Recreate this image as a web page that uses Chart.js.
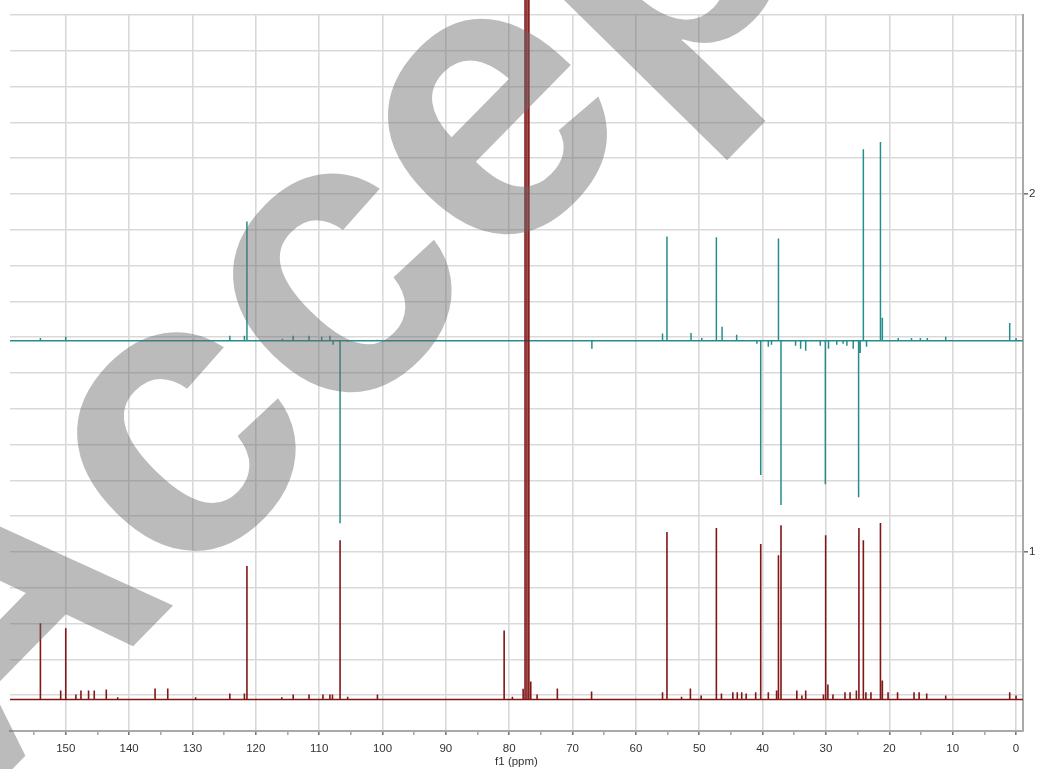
<!DOCTYPE html>
<html>
<head>
<meta charset="utf-8">
<script src="https://cdn.jsdelivr.net/npm/chart.js@4.4.0/dist/chart.umd.min.js"></script>
<style>
  html, body { margin: 0; padding: 0; background: #ffffff; overflow: hidden; }
  #wrap { width: 1038px; height: 769px; position: relative; }
</style>
</head>
<body>
<div id="wrap"><canvas id="nmr" width="1038" height="769"></canvas></div>
<script>
// 13C spectrum: peak positions (ppm) and heights above its baseline
const carbonShift = [154.0, 150.8, 150.0, 148.4, 147.6, 146.4, 145.5, 143.6, 141.8, 135.9, 133.9, 129.5,
  124.1, 121.8, 121.4, 115.9, 114.1, 111.6, 109.4, 108.3, 107.9, 106.7, 105.5, 100.8,
  80.8, 79.5, 77.8, 77.5, 77.2, 76.9, 76.6, 75.6, 72.4, 67.0,
  55.8, 55.1, 52.8, 51.4, 49.7, 47.3, 46.5, 44.7, 44.0, 43.3, 42.6, 41.1, 40.3, 39.1,
  37.8, 37.5, 37.1, 34.6, 33.8, 33.2, 30.4, 30.05, 29.7, 28.9, 27.0, 26.2, 25.2, 24.8,
  24.1, 23.7, 22.9, 21.4, 21.1, 20.2, 18.7, 16.1, 15.3, 14.1, 11.1, 1.0, 0.0];
const carbonHeight = [0.213, 0.025, 0.199, 0.014, 0.025, 0.025, 0.025, 0.028, 0.006, 0.031, 0.031, 0.006,
  0.017, 0.017, 0.373, 0.006, 0.014, 0.014, 0.014, 0.014, 0.014, 0.445, 0.008, 0.014,
  0.193, 0.008, 0.03, 3.0, 3.0, 3.0, 0.05, 0.014, 0.031, 0.022,
  0.020, 0.468, 0.008, 0.031, 0.011, 0.479, 0.017, 0.020, 0.020, 0.020, 0.017, 0.020, 0.434, 0.020,
  0.025, 0.403, 0.487, 0.025, 0.011, 0.025, 0.014, 0.459, 0.042, 0.014, 0.020, 0.020, 0.025, 0.479,
  0.445, 0.020, 0.020, 0.493, 0.053, 0.020, 0.020, 0.020, 0.020, 0.017, 0.011, 0.020, 0.011];
const carbonBase = 0.588;

// DEPT-135 spectrum: CH/CH3 up, CH2 down
const deptShift = [154.0, 150.0, 129.7, 124.1, 121.8, 121.4, 115.8, 114.1, 111.6, 109.6, 108.3, 107.8,
  106.7, 105.5, 100.8, 66.95, 55.8, 55.1, 51.3, 49.6, 47.3, 46.4, 44.1, 40.9, 40.3, 39.1,
  38.6, 37.5, 37.1, 34.8, 34.0, 33.2, 30.9, 30.1, 29.6, 28.3, 27.3, 26.7, 25.7, 24.85,
  24.6, 24.1, 23.6, 21.4, 21.1, 18.6, 16.5, 15.1, 14.0, 11.1, 1.0, 0.0];
const deptHeight = [0.008, 0.011, 0.003, 0.014, 0.014, 0.333, 0.006, 0.014, 0.014, 0.011, 0.014, -0.011,
  -0.510, -0.003, 0.003, -0.022, 0.020, 0.291, 0.022, 0.008, 0.289, 0.039, 0.017, -0.008, -0.375, -0.017,
  -0.011, 0.286, -0.459, -0.014, -0.022, -0.028, -0.014, -0.401, -0.022, -0.011, -0.008, -0.014, -0.022, -0.437,
  -0.034, 0.535, -0.017, 0.555, 0.064, 0.008, 0.008, 0.008, 0.008, 0.011, 0.050, 0.008];
const deptBase = 1.590;

// axis ranges and ticks
const ppmMin = -1.1, ppmMax = 158.8;
const ppmTicks = [0, 5, 10, 15, 20, 25, 30, 35, 40, 45, 50, 55, 60, 65, 70, 75, 80, 85, 90, 95,
  100, 105, 110, 115, 120, 125, 130, 135, 140, 145, 150, 155];
const intensityMin = 0.5, intensityMax = 2.5;
const intensityTicks = [0.5, 0.6, 0.7, 0.8, 0.9, 1.0, 1.1, 1.2, 1.3, 1.4, 1.5, 1.6, 1.7, 1.8, 1.9,
  2.0, 2.1, 2.2, 2.3, 2.4, 2.5];
const xTitle = 'f1 (ppm)';
const stampText = 'Accepted';

// turn a peak list into a stick trace along its baseline
function stickTrace(shifts, heights, base) {
  const pts = [{ x: ppmMax, y: base }];
  shifts.forEach((s, i) => {
    pts.push({ x: s, y: base });
    pts.push({ x: s, y: base + heights[i] });
    pts.push({ x: s, y: base });
  });
  pts.push({ x: ppmMin, y: base });
  return pts;
}

const isWhole = v => Math.abs(v - Math.round(v)) < 1e-6;
const isTen = v => Math.abs(v % 10) < 1e-6;

// large translucent diagonal stamp over the plot
const stampPlugin = {
  id: 'stamp',
  afterDraw(chart) {
    const ctx = chart.ctx;
    ctx.save();
    ctx.translate(-22, 804);
    ctx.rotate(-45.5 * Math.PI / 180);
    ctx.font = 'bold 400px "Liberation Sans", Arial, sans-serif';
    ctx.fillStyle = 'rgba(105,105,105,0.45)';
    ctx.textBaseline = 'alphabetic';
    ctx.fillText(stampText, 0, 0);
    ctx.restore();
  }
};

new Chart(document.getElementById('nmr'), {
  type: 'line',
  data: {
    datasets: [
      {
        label: '13C',
        data: stickTrace(carbonShift, carbonHeight, carbonBase),
        borderColor: 'rgb(128,22,22)',
        borderWidth: 1.6,
        pointRadius: 0,
        tension: 0,
        fill: false,
        clip: { left: 0, right: 0, bottom: 0, top: 20 }
      },
      {
        label: 'DEPT-135',
        data: stickTrace(deptShift, deptHeight, deptBase),
        borderColor: 'rgb(38,140,140)',
        borderWidth: 1.5,
        pointRadius: 0,
        tension: 0,
        fill: false
      }
    ]
  },
  options: {
    responsive: false,
    animation: false,
    devicePixelRatio: 1,
    layout: { padding: { left: 10, top: 15, right: 0, bottom: 0 } },
    plugins: { legend: { display: false }, tooltip: { enabled: false } },
    scales: {
      x: {
        type: 'linear',
        reverse: true,
        min: ppmMin,
        max: ppmMax,
        afterBuildTicks: s => { s.ticks = ppmTicks.map(v => ({ value: v })); },
        afterFit: s => { s.height = 38; },
        grid: {
          color: c => (c.tick && isTen(c.tick.value)) ? '#d9d9d9' : 'rgba(0,0,0,0)',
          lineWidth: 1.6,
          tickColor: c => (c.tick && isTen(c.tick.value)) ? '#777' : '#aaa',
          tickLength: 4,
          drawTicks: true
        },
        border: { display: true, color: '#a9a9a9', width: 2 },
        ticks: {
          autoSkip: false,
          maxRotation: 0,
          padding: 7,
          color: '#333',
          font: { family: '"Liberation Sans", Arial, sans-serif', size: 11.5 },
          callback: v => isTen(v) ? String(v) : ''
        },
        title: {
          display: true,
          text: xTitle,
          color: '#333',
          padding: { top: 0, bottom: 0 },
          font: { family: '"Liberation Sans", Arial, sans-serif', size: 11.5 }
        }
      },
      y: {
        type: 'linear',
        position: 'right',
        min: intensityMin,
        max: intensityMax,
        afterBuildTicks: s => { s.ticks = intensityTicks.map(v => ({ value: v })); },
        afterFit: s => { s.width = 15; },
        grid: {
          color: '#d9d9d9',
          lineWidth: 1.6,
          tickColor: c => (c.tick && isWhole(c.tick.value)) ? '#777' : 'rgba(0,0,0,0)',
          tickLength: 5
        },
        border: { display: true, color: '#a9a9a9', width: 2 },
        ticks: {
          padding: 1,
          color: '#333',
          font: { family: '"Liberation Sans", Arial, sans-serif', size: 11.5 },
          callback: v => isWhole(v) ? String(Math.round(v)) : ''
        }
      }
    }
  },
  plugins: [stampPlugin]
});
</script>
</body>
</html>
